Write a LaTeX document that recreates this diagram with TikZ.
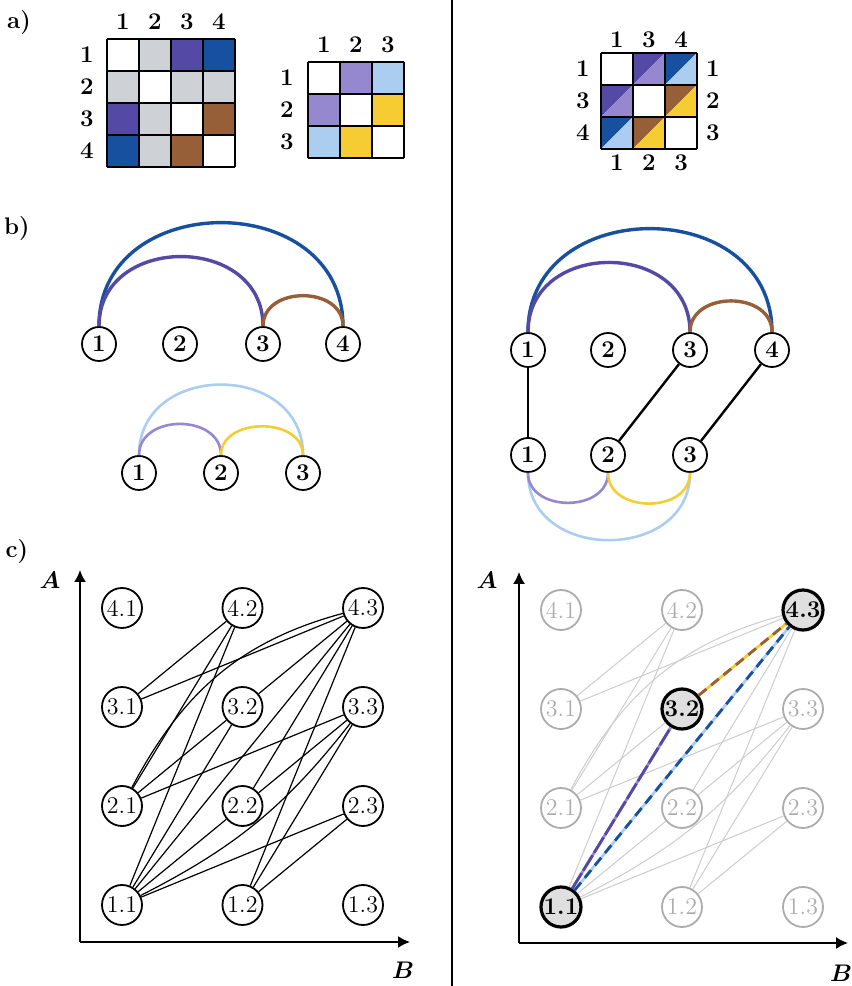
\documentclass[tikz,border=0pt]{standalone}
\usepackage{amsmath}
\usetikzlibrary{arrows.meta}

\definecolor{bleuA}{RGB}{24,80,160}
\definecolor{violetA}{RGB}{84,74,165}
\definecolor{brunA}{RGB}{150,95,55}
\definecolor{grisA}{RGB}{206,210,214}
\definecolor{violetB}{RGB}{150,136,206}
\definecolor{bleuB}{RGB}{170,205,240}
\definecolor{jauneB}{RGB}{245,205,50}

\tikzset{
  etiq/.style={font=\large\bfseries},
  grille/.style={line width=1.4pt},
  sommet/.style={circle,draw,line width=0.9pt,minimum size=17pt,
    inner sep=0pt,font=\large\bfseries},
  etat/.style={circle,draw,line width=0.9pt,minimum size=20pt,
    inner sep=0pt,font=\large},
  etatgris/.style={etat,draw=gray!65,text=gray!65},
  etatsel/.style={etat,line width=1.6pt,fill=gray!25,
    font=\large\bfseries},
  arcA/.style={line width=1.7pt},
  arcB/.style={line width=1.3pt},
  axe/.style={line width=0.8pt,-{Latex[length=6pt,width=6pt]}},
  lien/.style={line width=0.6pt},
  liengris/.style={line width=0.5pt,gray!40}
}

\begin{document}
\begin{tikzpicture}[x=0.5pt,y=0.5pt]

\useasboundingbox
(0,0)
rectangle
(852,986);

% Separation
\coordinate (sepH) at (452,986);
\coordinate (sepB) at (452,0);
\draw[line width=0.6pt]
(sepH)
--
(sepB);

\node[etiq] (titreA) at (19,963) {a)};
\node[etiq] (titreB) at (17,757) {b)};
\node[etiq] (titreC) at (17,434) {c)};

% Matrice A
\fill[grisA] (139,915) rectangle (171,947);
\fill[violetA] (171,915) rectangle (203,947);
\fill[bleuA] (203,915) rectangle (235,947);
\fill[grisA] (107,883) rectangle (139,915);
\fill[grisA] (171,883) rectangle (203,915);
\fill[grisA] (203,883) rectangle (235,915);
\fill[violetA] (107,851) rectangle (139,883);
\fill[grisA] (139,851) rectangle (171,883);
\fill[brunA] (203,851) rectangle (235,883);
\fill[bleuA] (107,819) rectangle (139,851);
\fill[grisA] (139,819) rectangle (171,851);
\fill[brunA] (171,819) rectangle (203,851);
\draw[grille,shift={(107,819)}]
(0,0)
grid[step=32]
(128,128);

\foreach \k/\x in {1/123,2/155,3/187,4/219}
  \node[etiq] (colA\k) at (\x,964) {\k};
\foreach \k/\y in {1/931,2/899,3/867,4/835}
  \node[etiq] (ligA\k) at (87,\y) {\k};

% Matrice B
\fill[violetB] (340,892) rectangle (372,924);
\fill[bleuB] (372,892) rectangle (404,924);
\fill[violetB] (308,860) rectangle (340,892);
\fill[jauneB] (372,860) rectangle (404,892);
\fill[bleuB] (308,828) rectangle (340,860);
\fill[jauneB] (340,828) rectangle (372,860);
\draw[grille,shift={(308,828)}]
(0,0)
grid[step=32]
(96,96);

\foreach \k/\x in {1/324,2/356,3/388}
  \node[etiq] (colB\k) at (\x,941) {\k};
\foreach \k/\y in {1/908,2/876,3/844}
  \node[etiq] (ligB\k) at (287,\y) {\k};

% Matrice appariee
\fill[violetA] (633,901) -- (633,933) -- (665,933) -- cycle;
\fill[violetB] (633,901) -- (665,901) -- (665,933) -- cycle;
\fill[bleuA] (665,901) -- (665,933) -- (697,933) -- cycle;
\fill[bleuB] (665,901) -- (697,901) -- (697,933) -- cycle;
\fill[violetA] (601,869) -- (601,901) -- (633,901) -- cycle;
\fill[violetB] (601,869) -- (633,869) -- (633,901) -- cycle;
\fill[brunA] (665,869) -- (665,901) -- (697,901) -- cycle;
\fill[jauneB] (665,869) -- (697,869) -- (697,901) -- cycle;
\fill[bleuA] (601,837) -- (601,869) -- (633,869) -- cycle;
\fill[bleuB] (601,837) -- (633,837) -- (633,869) -- cycle;
\fill[brunA] (633,837) -- (633,869) -- (665,869) -- cycle;
\fill[jauneB] (633,837) -- (665,837) -- (665,869) -- cycle;
\draw[grille,shift={(601,837)}]
(0,0)
grid[step=32]
(96,96);

\foreach \k/\t/\x in {1/1/617,2/3/649,3/4/681}
  \node[etiq] (colM\k) at (\x,946) {\t};
\foreach \k/\t/\y in {1/1/917,2/3/885,3/4/853}
  \node[etiq] (ligM\k) at (583,\y) {\t};
\foreach \k/\y in {1/917,2/885,3/853}
  \node[etiq] (droM\k) at (713,\y) {\k};
\foreach \k/\x in {1/617,2/649,3/681}
  \node[etiq] (basM\k) at (\x,823) {\k};

% Graphe A
\node[sommet] (a1) at (99,642) {1};
\node[sommet] (a2) at (180,642) {2};
\node[sommet] (a3) at (263,642) {3};
\node[sommet] (a4) at (343,642) {4};
\draw[arcA,bleuA] (a1.north) to[out=90,in=90,looseness=1.45] (a4.north);
\draw[arcA,violetA] (a1.north) to[out=90,in=90,looseness=1.45] (a3.north);
\draw[arcA,brunA] (a3.north) to[out=90,in=90,looseness=1.3] (a4.north);

% Graphe B
\node[sommet] (b1) at (139,513) {1};
\node[sommet] (b2) at (221,513) {2};
\node[sommet] (b3) at (303,513) {3};
\draw[arcB,bleuB] (b1.north) to[out=90,in=90,looseness=1.47] (b3.north);
\draw[arcB,violetB] (b1.north) to[out=90,in=90,looseness=1.3] (b2.north);
\draw[arcB,jauneB] (b2.north) to[out=90,in=90,looseness=1.2] (b3.north);

% Appariement
\node[sommet] (p1) at (528,636) {1};
\node[sommet] (p2) at (608,636) {2};
\node[sommet] (p3) at (690,636) {3};
\node[sommet] (p4) at (772,636) {4};
\node[sommet] (q1) at (528,531) {1};
\node[sommet] (q2) at (608,531) {2};
\node[sommet] (q3) at (690,531) {3};
\draw[arcA,bleuA] (p1.north) to[out=90,in=90,looseness=1.45] (p4.north);
\draw[arcA,violetA] (p1.north) to[out=90,in=90,looseness=1.47] (p3.north);
\draw[arcA,brunA] (p3.north) to[out=90,in=90,looseness=1.3] (p4.north);
\draw[arcB,bleuB] (q1.south) to[out=-90,in=-90,looseness=1.42] (q3.south);
\draw[arcB,violetB] (q1.south) to[out=-90,in=-90,looseness=1.28] (q2.south);
\draw[arcB,jauneB] (q2.south) to[out=-90,in=-90,looseness=1.28] (q3.south);
\draw[line width=1.2pt] (p1) -- (q1);
\draw[line width=1.2pt] (p3) -- (q2);
\draw[line width=1.2pt] (p4) -- (q3);

% Graphe produit
\coordinate (origG) at (80,44);
\coordinate (hautG) at (80,416);
\coordinate (droiteG) at (410,44);
\draw[axe] (origG) -- (hautG);
\draw[axe] (origG) -- (droiteG);
\node (nomAG) at (50,406) {\large$\boldsymbol{A}$};
\node (nomBG) at (403,16) {\large$\boldsymbol{B}$};

\foreach \a in {1,2,3,4}
  \foreach \b in {1,2,3}
    \node[etat] (g\a\b) at ({122+120.5*(\b-1)},{81+99*(\a-1)}) {\a.\b};

\foreach \u/\v in {11/42,11/32,11/43,11/22,11/23,21/42,21/32,21/33,
  31/42,31/43,12/43,12/33,12/23,22/43,22/33,32/43}
  \draw[lien] (g\u) -- (g\v);
\draw[lien] (g11) to[out=27,in=232] (g33);
\draw[lien] (g21) to[out=62,in=195] (g43);

% Clique maximale
\coordinate (origD) at (519,43);
\coordinate (hautD) at (519,414);
\coordinate (droiteD) at (848,43);
\draw[axe] (origD) -- (hautD);
\draw[axe] (origD) -- (droiteD);
\node (nomAD) at (487,406) {\large$\boldsymbol{A}$};
\node (nomBD) at (841,13) {\large$\boldsymbol{B}$};

\foreach \a/\b in {4/1,4/2,3/1,3/3,2/1,2/2,2/3,1/2,1/3}
  \node[etatgris] (d\a\b) at ({561+121*(\b-1)},{79+99*(\a-1)}) {\a.\b};
\node[etatsel] (d11) at (561,79) {1.1};
\node[etatsel] (d32) at (682,277) {3.2};
\node[etatsel] (d43) at (803,376) {4.3};

\foreach \u/\v in {11/42,11/22,11/23,21/42,21/32,21/33,
  31/42,31/43,12/43,12/33,12/23,22/43,22/33}
  \draw[liengris] (d\u) -- (d\v);
\draw[liengris] (d11) to[out=27,in=232] (d33);
\draw[liengris] (d21) to[out=62,in=195] (d43);

\draw[line width=1.4pt,violetB] (d11) -- (d32);
\draw[line width=1.4pt,violetA,dash pattern=on 9pt off 1.5pt] (d11) -- (d32);
\draw[line width=1.4pt,bleuB] (d11) -- (d43);
\draw[line width=1.4pt,bleuA,dash pattern=on 5pt off 3pt] (d11) -- (d43);
\draw[line width=1.4pt,jauneB] (d32) -- (d43);
\draw[line width=1.4pt,brunA,dash pattern=on 5pt off 3pt] (d32) -- (d43);

\end{tikzpicture}
\end{document}
